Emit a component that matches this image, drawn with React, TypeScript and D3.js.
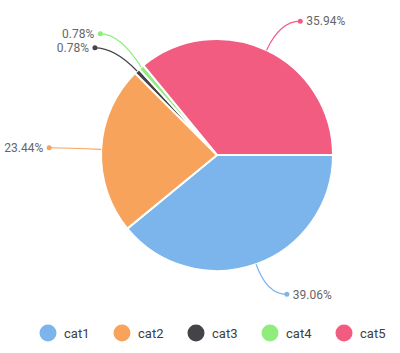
import * as d3 from "d3";

const categories = ["cat1", "cat2", "cat3", "cat4", "cat5"];
const percents = [39.06, 23.44, 0.78, 0.78, 35.94];
const colors = ["#7cb5ec", "#f7a35c", "#434348", "#90ed7d", "#f15c80"];

const width = 400;
const height = 353;

export default function App() {
  const cx = 217;
  const cy = 155;
  const radius = 116;

  const data = categories.map((c, i) => ({ cat: c, value: percents[i], color: colors[i] }));

  // starts at 3 o'clock, clockwise
  const pie = d3
    .pie<any>()
    .sort(null)
    .value((d) => d.value)
    .startAngle(Math.PI / 2)
    .endAngle(Math.PI / 2 + 2 * Math.PI);
  const arcs = pie(data);
  const arc = d3.arc<any>().innerRadius(0).outerRadius(radius);

  // label geometry
  const labels = arcs.map((a) => {
    const mid = (a.startAngle + a.endAngle) / 2;
    const sx = Math.sin(mid);
    const sy = -Math.cos(mid);
    const right = sx >= 0;
    const bend = radius + 32;
    return {
      a,
      right,
      x0: cx + sx * radius,
      y0: cy + sy * radius,
      bx: cx + sx * bend,
      by: cy + sy * bend,
      ly: cy + sy * bend,
    };
  });

  // push labels apart on each side
  [true, false].forEach((side) => {
    const group = labels.filter((l) => l.right === side).sort((p, q) => q.ly - p.ly);
    for (let i = 1; i < group.length; i++) {
      if (group[i - 1].ly - group[i].ly < 14) group[i].ly = group[i - 1].ly - 14;
    }
  });

  const legendX = d3.scalePoint<string>().domain(categories).range([48, 344]);

  return (
    <svg width={width} height={height} style={{ position: "absolute", left: 0, top: 0, background: "#fff" }}>
      <g transform={`translate(${cx},${cy})`}>
        {arcs.map((a, i) => (
          <path key={i} d={arc(a) || ""} fill={a.data.color} stroke="#fff" strokeWidth={2} />
        ))}
      </g>
      {labels.map((l, i) => {
        const dx = l.right ? l.bx + 20 : l.bx - 20;
        return (
          <g key={i}>
            <path
              d={`M${l.x0},${l.y0}Q${l.bx},${l.ly} ${dx},${l.ly}`}
              fill="none"
              stroke={l.a.data.color}
              strokeWidth={1.2}
            />
            <circle cx={dx} cy={l.ly} r={2.5} fill={l.a.data.color} />
            <text
              x={l.right ? dx + 6 : dx - 6}
              y={l.ly}
              dy="0.35em"
              textAnchor={l.right ? "start" : "end"}
              fontFamily="Roboto, sans-serif"
              fontSize={12}
              fill="#666"
            >
              {l.a.data.value.toFixed(2)}%
            </text>
          </g>
        );
      })}
      <g>
        {categories.map((c, i) => (
          <g key={c} transform={`translate(${legendX(c)},333)`}>
            <circle r={8.5} fill={colors[i]} />
            <text x={16} dy="0.35em" fontFamily="Roboto, sans-serif" fontSize={13} fill="#404040">
              {c}
            </text>
          </g>
        ))}
      </g>
    </svg>
  );
}
